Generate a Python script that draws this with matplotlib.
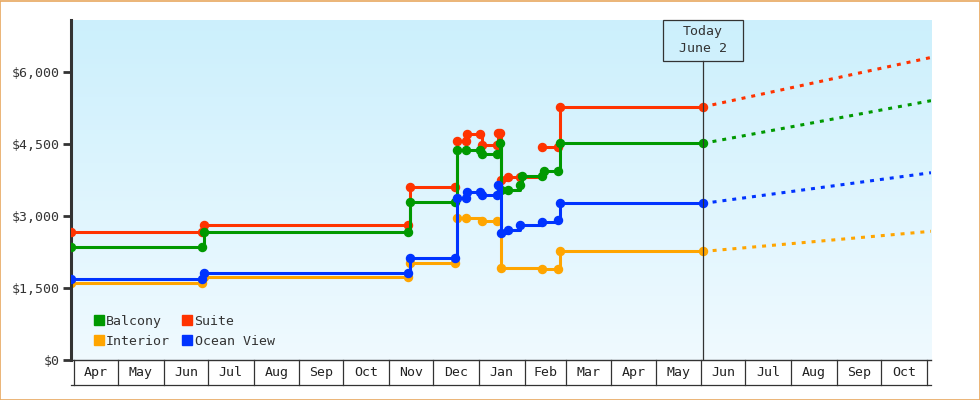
import numpy as np
import pandas as pd
import matplotlib
matplotlib.use("Agg")
import matplotlib.pyplot as plt
import matplotlib.dates as mdates
from matplotlib.lines import Line2D
from matplotlib.patches import Rectangle

plt.rcParams['font.family'] = 'DejaVu Sans Mono'
plt.rcParams['font.size'] = 9.5

nan = np.nan

# price history per cabin type (steps: price holds until next observation)
balcony_dates = ['2024-03-30', '2024-06-27', '2024-06-28', '2024-11-14', '2024-11-15',
                 '2024-12-16', '2024-12-17', '2024-12-23', '2025-01-02', '2025-01-03',
                 '2025-01-13', '2025-01-15', '2025-01-16', '2025-01-21', '2025-01-29',
                 '2025-01-30', '2025-02-13', '2025-02-14', '2025-02-24', '2025-02-25',
                 '2025-06-02']
balcony_prices = [2360, 2360, 2660, 2660, 3300, 3300, 4370, 4380, 4380, 4290,
                  4290, 4510, 3550, 3550, 3650, 3830, 3830, 3940, 3940, 4520, 4510]

interior_dates = ['2024-03-30', '2024-06-27', '2024-06-28', '2024-11-14', '2024-11-15',
                  '2024-12-16', '2024-12-17', '2024-12-23', '2025-01-03', '2025-01-13',
                  '2025-01-16', '2025-02-13', '2025-02-24', '2025-02-25', '2025-06-02']
interior_prices = [1600, 1600, 1730, 1730, 2020, 2020, 2960, 2960, 2890, 2890,
                   1910, 1890, 1890, 2260, 2260]

suite_dates = ['2024-03-30', '2024-06-27', '2024-06-28', '2024-11-14', '2024-11-15',
               '2024-12-16', '2024-12-17', '2024-12-23', '2024-12-24', '2025-01-02',
               '2025-01-03', '2025-01-13', '2025-01-14', '2025-01-15', '2025-01-16',
               '2025-01-21', '2025-01-29', '2025-02-12', '2025-02-13', '2025-02-24',
               '2025-02-25', '2025-06-02']
suite_prices = [2660, 2660, 2820, 2820, 3600, 3600, 4570, 4550, 4710, 4710,
                4480, 4480, 4720, 4720, 3750, 3810, 3820, nan, 4430, 4430, 5270, 5270]

ocean_dates = ['2024-03-30', '2024-06-27', '2024-06-28', '2024-11-14', '2024-11-15',
               '2024-12-16', '2024-12-17', '2024-12-23', '2024-12-24', '2025-01-02',
               '2025-01-03', '2025-01-13', '2025-01-14', '2025-01-16', '2025-01-21',
               '2025-01-29', '2025-02-13', '2025-02-24', '2025-02-25', '2025-06-02']
ocean_prices = [1690, 1690, 1810, 1810, 2120, 2120, 3370, 3370, 3500, 3500,
                3440, 3440, 3650, 2640, 2710, 2820, 2880, 2910, 3260, 3260]

# projection from today to end of range
forecast_dates = ['2025-06-02', '2025-11-04']
balcony_forecast = [4510, 5400]
interior_forecast = [2260, 2680]
suite_forecast = [5270, 6300]
ocean_forecast = [3260, 3900]

today = '2025-06-02'
today_label = 'Today\nJune 2'
x_start, x_end = '2024-03-30', '2025-11-04'
month_starts = pd.date_range('2024-04-01', '2025-11-01', freq='MS')
y_ticks = [0, 1500, 3000, 4500, 6000]

series = [
    ('Balcony', '#009900', balcony_dates, balcony_prices, balcony_forecast, 4),
    ('Interior', '#ffa500', interior_dates, interior_prices, interior_forecast, 2),
    ('Suite', '#ff3300', suite_dates, suite_prices, suite_forecast, 3),
    ('Ocean View', '#0033ff', ocean_dates, ocean_prices, ocean_forecast, 5),
]

fig = plt.figure(figsize=(9.8, 4), dpi=100)
ax = fig.add_axes([71 / 980, 40 / 400, 860 / 980, 340 / 400])

# light blue gradient background
top_c = np.array([0.80, 0.94, 0.99])
bot_c = np.array([0.94, 0.98, 1.00])
t = np.linspace(0, 1, 256)[:, None]
grad = (top_c * (1 - t) + bot_c * t)[:, None, :]
ax.imshow(grad, extent=[0, 1, 0, 1], transform=ax.transAxes, aspect='auto', zorder=0)

fc = lambda ds: mdates.date2num(pd.to_datetime(ds))

handles = []
for name, color, dates, prices, fcast, z in series:
    ax.plot(fc(dates), prices, drawstyle='steps-post', color=color, lw=2.2,
            marker='o', ms=5.8, mec=color, solid_capstyle='butt', zorder=z)
    ax.plot(fc(forecast_dates), fcast, color=color, lw=2.2, dashes=(1.3, 1.95), zorder=z)
    handles.append(Line2D([], [], ls='none', marker='s', ms=7.5, color=color, label=name))

ax.set_xlim(fc(x_start), fc(x_end))
ax.set_ylim(0, 7080)

# today marker
tx = fc(today)
ax.plot([tx, tx], [0, 0.88], color='#333333', lw=0.9,
        transform=ax.get_xaxis_transform(), zorder=6)
box_w = 80 / 1.4732
ax.add_patch(Rectangle((tx - box_w / 2, 0.88), box_w, 0.12, transform=ax.get_xaxis_transform(),
                       fill=False, ec='#333333', lw=0.9, clip_on=False, zorder=6))
ax.text(tx, 0.94, today_label, transform=ax.get_xaxis_transform(), ha='center', va='center',
        linespacing=1.4, color='#333333', zorder=6)

# axes styling
for s in ['top', 'right']:
    ax.spines[s].set_visible(False)
ax.spines['left'].set_linewidth(2.2)
ax.spines['left'].set_color('#333333')
ax.spines['bottom'].set_linewidth(1.0)
ax.spines['bottom'].set_color('#333333')
ax.set_yticks(y_ticks)
ax.set_yticklabels([f'${v:,.0f}' for v in y_ticks])
ax.tick_params(axis='y', length=6, width=2, color='#333333', labelcolor='#333333', pad=2)
ax.set_xticks([])

# month cells under the axis
xt = ax.get_xaxis_transform()
cell_h = 25 / 340
for m in month_starts:
    mx = mdates.date2num(m)
    ax.plot([mx, mx], [0, -cell_h], color='#333333', lw=0.9, transform=xt, clip_on=False)
for m0, m1 in zip(month_starts[:-1], month_starts[1:]):
    mid = (mdates.date2num(m0) + mdates.date2num(m1)) / 2
    ax.text(mid, -cell_h / 2, m0.strftime('%b'), transform=xt, ha='center', va='center',
            color='#222222')
ax.plot([0, 1], [-cell_h, -cell_h], color='#333333', lw=0.9, transform=ax.transAxes,
        clip_on=False)

leg = ax.legend(handles=handles, ncol=2, loc='lower left', bbox_to_anchor=(0.014, 0.004),
                frameon=False, handlelength=0.8, handletextpad=0.15, columnspacing=0.9,
                labelspacing=0.55, borderpad=0.3)
for txt in leg.get_texts():
    txt.set_color('#333333')

# orange frame around the whole picture
fig.patches.append(Rectangle((0.0005, 0.001), 0.999, 0.997, transform=fig.transFigure,
                             fill=False, ec='#e8a860', lw=1.2))

fig.savefig('out.png', dpi=100)
